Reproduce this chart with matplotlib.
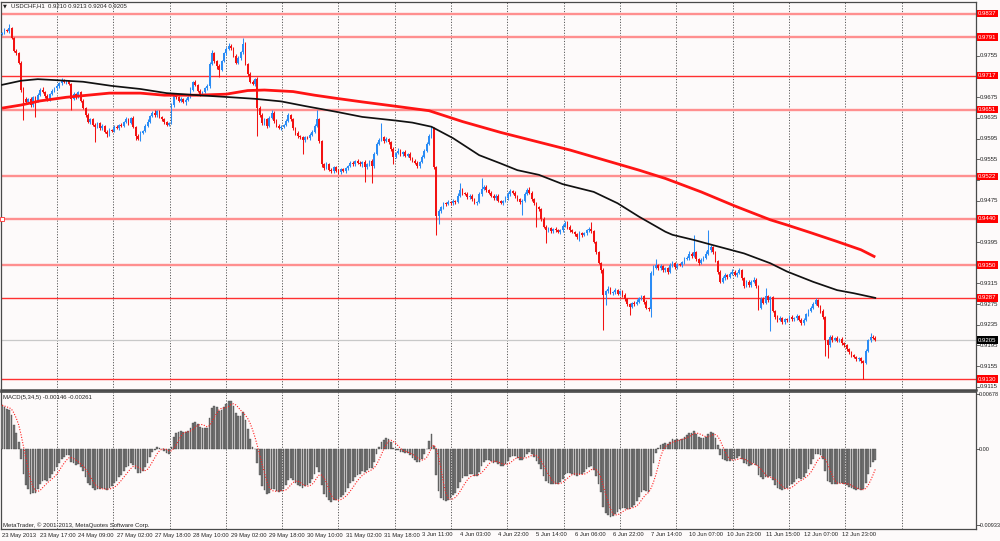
import numpy as np
import pandas as pd
import matplotlib
matplotlib.use("Agg")
import matplotlib.pyplot as plt
from matplotlib.transforms import blended_transform_factory as blend

plt.rcParams['font.family'] = ['Liberation Sans', 'DejaVu Sans']

# ---------------- texts ----------------
symbol_header = "USDCHF,H1  0.9210 0.9213 0.9204 0.9205"
macd_header = "MACD(5,34,5) -0.00146 -0.00261"
copyright_text = "MetaTrader, \u00a9 2001-2013, MetaQuotes Software Corp."

x_labels = ["23 May 2013", "23 May 17:00", "24 May 09:00", "27 May 02:00", "27 May 18:00",
            "28 May 10:00", "29 May 02:00", "29 May 18:00", "30 May 10:00", "31 May 02:00",
            "31 May 18:00", "3 Jun 11:00", "4 Jun 03:00", "4 Jun 22:00", "5 Jun 14:00",
            "6 Jun 06:00", "6 Jun 22:00", "7 Jun 14:00", "10 Jun 07:00", "10 Jun 23:00",
            "11 Jun 15:00", "12 Jun 07:00", "12 Jun 23:00"]
label_step = 16

price_ticks = [0.9835, 0.9795, 0.9755, 0.9715, 0.9675, 0.9635, 0.9595, 0.9555, 0.9515,
               0.9475, 0.9435, 0.9395, 0.9355, 0.9315, 0.9275, 0.9235, 0.9195, 0.9155, 0.9115]

# ---------------- H1 candles (pips) ----------------
open0_pips = 9798
close_pips = [
    9800, 9805, 9803, 9808, 9790, 9765, 9760, 9742, 9690, 9672,
    9665, 9672, 9660, 9675, 9668, 9680, 9690, 9685, 9678, 9670,
    9682, 9688, 9692, 9696, 9702, 9708, 9704, 9706, 9700, 9672,
    9682, 9676, 9685, 9668, 9655, 9640, 9628, 9632, 9622, 9618,
    9625, 9615, 9620, 9608, 9603, 9612, 9610, 9618, 9615, 9622,
    9620, 9628, 9632, 9626, 9635, 9618, 9600, 9595, 9605, 9610,
    9620, 9628, 9638, 9645, 9640, 9648, 9636, 9632, 9628, 9622,
    9625, 9660, 9680, 9675, 9668, 9672, 9665, 9670, 9675, 9690,
    9704, 9698, 9688, 9682, 9686, 9692, 9696, 9740, 9760, 9745,
    9735, 9728, 9745, 9760, 9768, 9775, 9770, 9755, 9742, 9750,
    9762, 9778, 9740, 9720, 9705, 9700, 9710, 9655, 9640, 9625,
    9632, 9620, 9635, 9645, 9630, 9620, 9615, 9618, 9622, 9630,
    9640, 9632, 9615, 9605, 9600, 9598, 9592, 9598, 9596, 9602,
    9608, 9620, 9632, 9590, 9545, 9538, 9545, 9535, 9532, 9540,
    9533, 9530, 9536, 9532, 9538, 9542, 9548, 9545, 9552, 9548,
    9545, 9550, 9540, 9545, 9552, 9542, 9565, 9585, 9592, 9598,
    9590, 9595, 9588, 9575, 9560, 9568, 9572, 9565, 9570, 9562,
    9566, 9558, 9552, 9548, 9542, 9550, 9560, 9572, 9585, 9600,
    9615, 9540, 9445, 9455, 9462, 9470, 9468, 9472, 9470, 9475,
    9472, 9485, 9496, 9490, 9488, 9482, 9485, 9478, 9470, 9472,
    9488, 9498, 9502, 9495, 9490, 9484, 9480, 9485, 9475, 9470,
    9474, 9480, 9488, 9494, 9490, 9484, 9478, 9472, 9475, 9488,
    9496, 9490, 9478, 9470, 9462, 9458, 9440, 9425, 9418, 9422,
    9416, 9420, 9418, 9414, 9418, 9426, 9432, 9425, 9418, 9414,
    9410, 9405, 9412, 9408, 9412, 9418, 9420, 9416, 9395, 9375,
    9355, 9340, 9292, 9300, 9305, 9296, 9298, 9302, 9295, 9300,
    9292, 9285, 9275, 9270, 9278, 9275, 9280, 9286, 9290, 9280,
    9268, 9265, 9335, 9345, 9350, 9344, 9348, 9340, 9344, 9338,
    9350, 9355, 9346, 9352, 9350, 9356, 9362, 9365, 9372, 9368,
    9375, 9362, 9355, 9360, 9365, 9372, 9380, 9385, 9375, 9358,
    9338, 9318, 9325, 9332, 9328, 9334, 9338, 9332, 9336, 9340,
    9325, 9310, 9318, 9312, 9318, 9322, 9310, 9268, 9285, 9278,
    9290, 9282, 9288, 9262, 9250, 9244, 9248, 9240, 9246, 9244,
    9250, 9246, 9248, 9252, 9245, 9238, 9245, 9255, 9262, 9268,
    9276, 9282, 9272, 9262, 9250, 9205, 9195, 9212, 9206, 9210,
    9204, 9208, 9200, 9195, 9188, 9182, 9176, 9172, 9168, 9170,
    9164, 9162, 9185, 9205, 9212, 9210, 9205,
]
up_wick_pips = [
    2, 3, 2, 8, 3, 2, 3, 2, 3, 4,
    3, 2, 4, 2, 3, 3, 2, 4, 2, 3,
    2, 3, 2, 4, 3, 5, 2, 3, 2, 3,
    4, 2, 3, 2, 3, 2, 4, 3, 2, 3,
    3, 2, 4, 2, 3, 3, 2, 3, 4, 2,
    3, 2, 4, 3, 2, 3, 2, 3, 4, 2,
    3, 4, 2, 3, 5, 2, 3, 2, 3, 2,
    3, 4, 3, 2, 3, 4, 2, 3, 2, 4,
    3, 4, 2, 3, 2, 3, 4, 3, 6, 3,
    2, 4, 3, 3, 4, 5, 3, 2, 3, 4,
    3, 12, 3, 2, 4, 3, 2, 4, 3, 5,
    3, 2, 4, 5, 3, 2, 3, 4, 2, 3,
    4, 3, 2, 3, 4, 2, 3, 2, 3, 4,
    3, 4, 18, 3, 2, 3, 4, 2, 3, 2,
    3, 4, 2, 3, 3, 2, 4, 3, 2, 3,
    3, 2, 4, 3, 2, 3, 4, 3, 4, 27,
    3, 4, 2, 3, 3, 2, 4, 3, 2, 3,
    2, 3, 2, 4, 3, 2, 3, 3, 4, 3,
    4, 3, 2, 4, 3, 2, 3, 4, 2, 3,
    2, 4, 14, 3, 2, 4, 3, 2, 3, 2,
    3, 20, 4, 3, 2, 3, 4, 2, 3, 2,
    3, 4, 3, 4, 2, 3, 2, 3, 4, 3,
    4, 6, 3, 2, 3, 2, 3, 4, 2, 3,
    3, 2, 4, 3, 2, 3, 4, 3, 2, 3,
    2, 3, 4, 2, 3, 3, 4, 14, 3, 2,
    3, 2, 4, 3, 5, 3, 2, 4, 3, 2,
    3, 4, 2, 3, 2, 3, 4, 3, 3, 2,
    3, 2, 4, 5, 12, 3, 4, 2, 3, 2,
    4, 3, 2, 3, 2, 3, 4, 3, 5, 3,
    34, 3, 2, 4, 3, 5, 38, 4, 3, 2,
    3, 2, 4, 3, 2, 3, 4, 3, 2, 4,
    3, 2, 3, 4, 3, 5, 3, 2, 4, 3,
    16, 3, 2, 3, 2, 4, 3, 2, 3, 2,
    3, 4, 2, 3, 2, 3, 4, 3, 3, 4,
    3, 5, 3, 2, 3, 2, 3, 4, 3, 2,
    3, 2, 3, 2, 3, 2, 3, 2, 3, 2,
    3, 2, 4, 3, 8, 3, 3,
]
dn_wick_pips = [
    2, 3, 2, 3, 2, 3, 4, 3, 5, 41,
    3, 2, 4, 3, 31, 2, 3, 2, 4, 3,
    3, 2, 3, 2, 3, 4, 2, 3, 2, 22,
    3, 4, 2, 3, 2, 4, 3, 5, 3, 30,
    3, 4, 3, 2, 4, 3, 2, 3, 2, 4,
    2, 3, 2, 4, 3, 3, 8, 3, 4, 2,
    3, 2, 3, 2, 4, 3, 2, 3, 4, 3,
    3, 2, 3, 4, 2, 3, 2, 4, 3, 2,
    3, 2, 3, 4, 3, 2, 3, 3, 2, 4,
    6, 13, 3, 2, 3, 2, 4, 3, 2, 3,
    2, 3, 2, 4, 3, 2, 3, 55, 4, 3,
    3, 4, 2, 3, 4, 3, 2, 3, 3, 2,
    3, 2, 4, 3, 3, 4, 27, 3, 2, 3,
    2, 3, 2, 3, 4, 3, 2, 3, 4, 3,
    2, 3, 3, 2, 3, 4, 2, 3, 2, 3,
    3, 4, 28, 3, 2, 32, 3, 2, 3, 2,
    3, 2, 4, 3, 15, 3, 2, 4, 3, 2,
    3, 4, 3, 2, 4, 3, 2, 3, 3, 2,
    3, 4, 37, 15, 3, 4, 3, 2, 3, 4,
    3, 2, 3, 4, 2, 3, 4, 3, 2, 3,
    2, 3, 3, 4, 3, 2, 3, 4, 3, 2,
    3, 2, 4, 3, 2, 3, 4, 3, 25, 3,
    2, 3, 4, 3, 37, 3, 4, 3, 25, 3,
    3, 4, 3, 2, 3, 3, 2, 4, 3, 2,
    3, 4, 8, 3, 2, 3, 4, 3, 2, 4,
    3, 4, 67, 19, 3, 2, 4, 3, 2, 3,
    3, 4, 3, 16, 3, 4, 2, 3, 3, 4,
    3, 3, 15, 3, 2, 4, 3, 2, 3, 4,
    2, 3, 4, 3, 2, 3, 3, 2, 4, 3,
    2, 3, 4, 3, 2, 3, 3, 4, 3, 2,
    4, 3, 2, 3, 4, 3, 2, 3, 4, 3,
    4, 3, 2, 4, 3, 2, 3, 4, 3, 2,
    3, 2, 60, 3, 4, 3, 2, 3, 4, 3,
    2, 3, 3, 4, 3, 4, 3, 2, 3, 2,
    3, 2, 3, 4, 3, 30, 25, 3, 4, 3,
    3, 2, 4, 3, 3, 4, 3, 2, 3, 4,
    3, 32, 3, 2, 3, 2, 1,
]

# ---------------- moving averages (sampled, pips) ----------------
black_ma_bars = [0, 8, 15, 23, 34, 46, 58, 69, 82, 96, 106, 117, 127, 140, 151, 165, 172, 180,
                 189, 200, 209, 216, 225, 235, 248, 258, 267, 278, 281, 290, 298, 311, 322,
                 329, 340, 350, 357, 366]
black_ma_pips = [9699, 9707, 9710, 9708, 9705, 9697, 9691, 9683, 9679, 9675, 9672, 9667, 9658,
                 9647, 9637, 9630, 9626, 9618, 9596, 9563, 9547, 9534, 9525, 9507, 9492, 9470,
                 9444, 9415, 9409, 9399, 9389, 9373, 9354, 9338, 9318, 9302, 9296, 9287]
red_ma_bars = [0, 8, 16, 27, 45, 58, 68, 82, 94, 103, 110, 122, 131, 140, 151, 166, 179, 193,
               209, 238, 267, 278, 293, 307, 322, 329, 339, 350, 360, 366]
red_ma_pips = [9654, 9660, 9668, 9675, 9683, 9683, 9679, 9679, 9681, 9688, 9689, 9686, 9679,
               9673, 9666, 9657, 9649, 9628, 9607, 9573, 9534, 9518, 9492, 9465, 9438, 9428,
               9413, 9396, 9380, 9366]

# ---------------- horizontal levels ----------------
levels = [0.9837, 0.9791, 0.9717, 0.9651, 0.9522, 0.9440, 0.9350, 0.9287, 0.9130]
level_light = [True, True, False, True, True, True, True, False, False]
bid_price = 0.9205

macd_fast, macd_slow, macd_signal = 5, 34, 5
macd_start = 0.0054
macd_axis_labels = [0.00678, 0.0, -0.00933]

# ---------------- layout constants (pixels) ----------------
W, H = 1000, 541
BG = '#fdfafa'
BAR_PX = 2.386
X0_PX = 2.0
PLOT_L, PLOT_R = 1, 976
MAIN_T, MAIN_B = 2, 390
SUB_T, SUB_B = 392, 529
PRICE_REF_PX, PRICE_REF, PRICE_PER_PX = 13.5, 0.9837, 0.0001934
MACD_ZERO_PX, MACD_PX_PER_UNIT = 449.3, 8150.0
UP_COL, DN_COL = '#2b8cf5', '#f21212'
FS = 4.3

def fx(px):
    return px / W

def fy(py):
    return 1 - py / H

def px2bar(px):
    return (px - X0_PX) / BAR_PX

def py2price(py):
    return PRICE_REF - (py - PRICE_REF_PX) * PRICE_PER_PX

def py2macd(py):
    return (MACD_ZERO_PX - py) / MACD_PX_PER_UNIT

# ---------------- data prep ----------------
c = np.array(close_pips) / 10000.0
o = np.r_[open0_pips / 10000.0, c[:-1]]
hi = np.maximum(o, c) + np.array(up_wick_pips) / 10000.0
lo = np.minimum(o, c) - np.array(dn_wick_pips) / 10000.0
n = len(c)
xb = np.arange(n)

a_f = 2.0 / (macd_fast + 1)
a_s = 2.0 / (macd_slow + 1)
e_f, e_s = c[0], c[0] - macd_start
macd = [e_f - e_s]
for i in range(1, n):
    e_f += a_f * (c[i] - e_f)
    e_s += a_s * (c[i] - e_s)
    macd.append(e_f - e_s)
macd = np.array(macd)
sig = pd.Series(macd).rolling(macd_signal, min_periods=1).mean().values

# ---------------- figure ----------------
fig = plt.figure(figsize=(W / 100, H / 100), dpi=100, facecolor=BG)
ax = fig.add_axes([fx(PLOT_L), fy(MAIN_B), fx(PLOT_R) - fx(PLOT_L), fy(MAIN_T) - fy(MAIN_B)])
ax2 = fig.add_axes([fx(PLOT_L), fy(SUB_B), fx(PLOT_R) - fx(PLOT_L), fy(SUB_T) - fy(SUB_B)])
xlim = (px2bar(PLOT_L), px2bar(PLOT_R))
for a in (ax, ax2):
    a.set_facecolor(BG)
    a.set_xlim(*xlim)
    a.set_xticks([])
    a.set_yticks([])
    for s in a.spines.values():
        s.set_color('#4a4a4a')
        s.set_linewidth(0.9)
ax.spines['bottom'].set_linewidth(1.8)
ax2.spines['top'].set_linewidth(1.2)
ax.set_ylim(py2price(MAIN_B), py2price(MAIN_T))
ax2.set_ylim(py2macd(SUB_B), py2macd(SUB_T))

# vertical dotted grid
for k in range(1, 17):
    gx = px2bar(56.3 * k + 0.7)
    for a in (ax, ax2):
        a.axvline(gx, color='#5a5a5a', lw=0.7, ls=(0, (1.2, 1.6)), zorder=1)

# horizontal levels
for lv, light in zip(levels, level_light):
    if light:
        ax.axhline(lv, color='#ff8f8f', lw=1.7, zorder=1.5)
    else:
        ax.axhline(lv, color='#ff3030', lw=1.0, zorder=1.5)
ax.axhline(bid_price, color='#c8c8c8', lw=0.9, zorder=1.4)
ax.plot([xlim[0] + 0.6], [0.9440], marker='s', ms=2.2, mfc='white', mec='#ff3030', mew=0.6,
        clip_on=False, zorder=6)

# candles
cols = np.where(c >= o, UP_COL, DN_COL)
ax.vlines(xb, lo, hi, colors=cols, lw=0.75, zorder=3)
body = np.maximum(np.abs(c - o), 0.00003)
ax.bar(xb, body, bottom=np.minimum(o, c), width=0.72, color=cols, lw=0, zorder=3)

# moving averages
ax.plot(red_ma_bars, np.array(red_ma_pips) / 10000.0, color='#ff1414', lw=2.0, zorder=4,
        solid_capstyle='butt')
ax.plot(black_ma_bars, np.array(black_ma_pips) / 10000.0, color='#111111', lw=1.25, zorder=4.5)

# right price scale (tick labels hidden where a level box sits on them)
tr_main = blend(fig.transFigure, ax.transData)
box_prices = levels + [bid_price]
min_gap = 4.5 * PRICE_PER_PX
for p in price_ticks:
    ax.plot([fx(PLOT_R), fx(PLOT_R + 3)], [p, p], color='#4a4a4a', lw=0.6, transform=tr_main,
            clip_on=False, zorder=5)
    if min(abs(p - b) for b in box_prices) < min_gap:
        continue
    ax.text(fx(PLOT_R + 4), p, f"{p:.4f}", transform=tr_main, fontsize=FS, color='#222222',
            va='center', ha='left', zorder=5, clip_on=False)
for lv in levels:
    ax.text(fx(PLOT_R + 2), lv, f"{lv:.4f}", transform=tr_main, fontsize=FS, color='white',
            va='center', ha='left', zorder=7, clip_on=False,
            bbox=dict(boxstyle='square,pad=0.22', fc='#ff0000', ec='none'))
ax.text(fx(PLOT_R + 2), bid_price, f"{bid_price:.4f}", transform=tr_main, fontsize=FS,
        color='white', va='center', ha='left', zorder=7, clip_on=False,
        bbox=dict(boxstyle='square,pad=0.22', fc='#000000', ec='none'))

# MACD panel
ax2.bar(xb, macd, width=0.72, color='#777777', edgecolor='#3c3c3c', lw=0.25, zorder=3)
ax2.plot(xb, sig, color='#ff2020', lw=0.8, ls=(0, (1.0, 1.4)), zorder=4)
tr_sub = blend(fig.transFigure, ax2.transData)
for v in macd_axis_labels:
    txt = "0.00" if v == 0 else f"{v:.5f}"
    ax2.plot([fx(PLOT_R), fx(PLOT_R + 3)], [v, v], color='#4a4a4a', lw=0.6, transform=tr_sub,
             clip_on=False)
    ax2.text(fx(PLOT_R + 3), v, txt, transform=tr_sub, fontsize=4.0, color='#222222',
             va='center', ha='left', clip_on=False)

# time labels
tr_x = blend(ax2.transData, fig.transFigure)
for k, lab in enumerate(x_labels):
    ax2.text(k * label_step, fy(535), lab, transform=tr_x, fontsize=4.2, color='#222222',
             va='center', ha='left', clip_on=False)

# headers
fig.text(fx(3), fy(6), "\u25bc", fontsize=3.6, color='#222222', va='center', ha='left',
         family='DejaVu Sans')
fig.text(fx(11), fy(6), symbol_header, fontsize=FS, color='#222222', va='center', ha='left')
fig.text(fx(3), fy(397), macd_header, fontsize=FS, color='#222222', va='center', ha='left')
fig.text(fx(3), fy(525), copyright_text, fontsize=FS, color='#222222', va='center', ha='left')

fig.savefig('out.png', dpi=100, facecolor=BG)
